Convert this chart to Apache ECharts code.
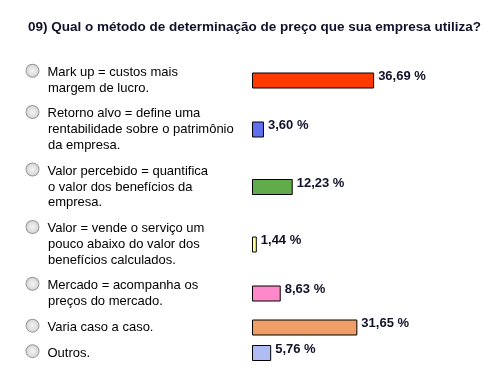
<!DOCTYPE html>
<html><head><meta charset="utf-8">
<script src="https://cdn.jsdelivr.net/npm/echarts@6/dist/echarts.min.js"></script>
<style>html,body{margin:0;padding:0;background:#fff}#c{width:489px;height:384px}</style>
</head><body><div id="c"></div>
<script>
var title = '09) Qual o método de determinação de preço que sua empresa utiliza?';
var categories = [
  ['Mark up = custos mais', 'margem de lucro.'],
  ['Retorno alvo = define uma', 'rentabilidade sobre o patrimônio', 'da empresa.'],
  ['Valor percebido = quantifica', 'o valor dos benefícios da', 'empresa.'],
  ['Valor = vende o serviço um', 'pouco abaixo do valor dos', 'benefícios calculados.'],
  ['Mercado = acompanha os', 'preços do mercado.'],
  ['Varia caso a caso.'],
  ['Outros.']
];
var values = [36.69, 3.60, 12.23, 1.44, 8.63, 31.65, 5.76];
var colors = ['#FF3A00', '#5F6FEF', '#62AB4A', '#FFFF99', '#FF88C8', '#EE9E66', '#B0BDF5'];
var rowCenters = [80.5, 129.5, 187, 244.5, 293.5, 327.5, 353];

var grids = [], xAxes = [], yAxes = [], series = [];
categories.forEach(function (lines, i) {
  grids.push({left: 252, width: 237, top: rowCenters[i] - 8.5, height: 17});
  xAxes.push({gridIndex: i, type: 'value', min: 0, max: 71.2, show: false});
  var label = lines.map(function (l, j) {
    return (j === 0 ? '{r|}{g|}' : '{s|}') + '{t|' + l + '}';
  }).join('\n');
  yAxes.push({
    gridIndex: i, type: 'category', data: [label],
    axisLine: {show: false}, axisTick: {show: false}, splitLine: {show: false},
    axisLabel: {
      show: true, align: 'left', margin: 225.5, verticalAlign: 'middle',
      rich: {
        r: {width: 12, height: 12, borderRadius: 7, borderColor: '#9a9a9a', borderWidth: 1,
            backgroundColor: {type: 'radial', x: 0.5, y: 0.5, r: 0.5,
              colorStops: [{offset: 0, color: '#f4f4f4'}, {offset: 1, color: '#d2d2d2'}]},
            verticalAlign: 'top'},
        g: {width: 9},
        s: {width: 21.5},
        t: {fontFamily: 'Liberation Sans, Arial, sans-serif', fontSize: 13, color: '#000', lineHeight: 15.7}
      }
    }
  });
  series.push({
    type: 'bar', xAxisIndex: i, yAxisIndex: i, data: [values[i]],
    barWidth: 16, animation: false,
    itemStyle: {color: colors[i], borderColor: '#000', borderWidth: 1},
    label: {
      show: true, position: 'right', distance: 4, offset: [0, -4],
      formatter: function (p) { return p.value.toFixed(2).replace('.', ',') + ' %'; },
      fontFamily: 'Liberation Sans, Arial, sans-serif', fontSize: 13, fontWeight: 'bold', color: '#11112a'
    }
  });
});

var chart = echarts.init(document.getElementById('c'));
chart.setOption({
  backgroundColor: '#fff',
  animation: false,
  title: {text: title, left: 23, top: 15,
    textStyle: {fontFamily: 'Liberation Sans, Arial, sans-serif', fontSize: 13.5, fontWeight: 'bold', color: '#11112a'}},
  grid: grids, xAxis: xAxes, yAxis: yAxes, series: series
});
</script></body></html>
